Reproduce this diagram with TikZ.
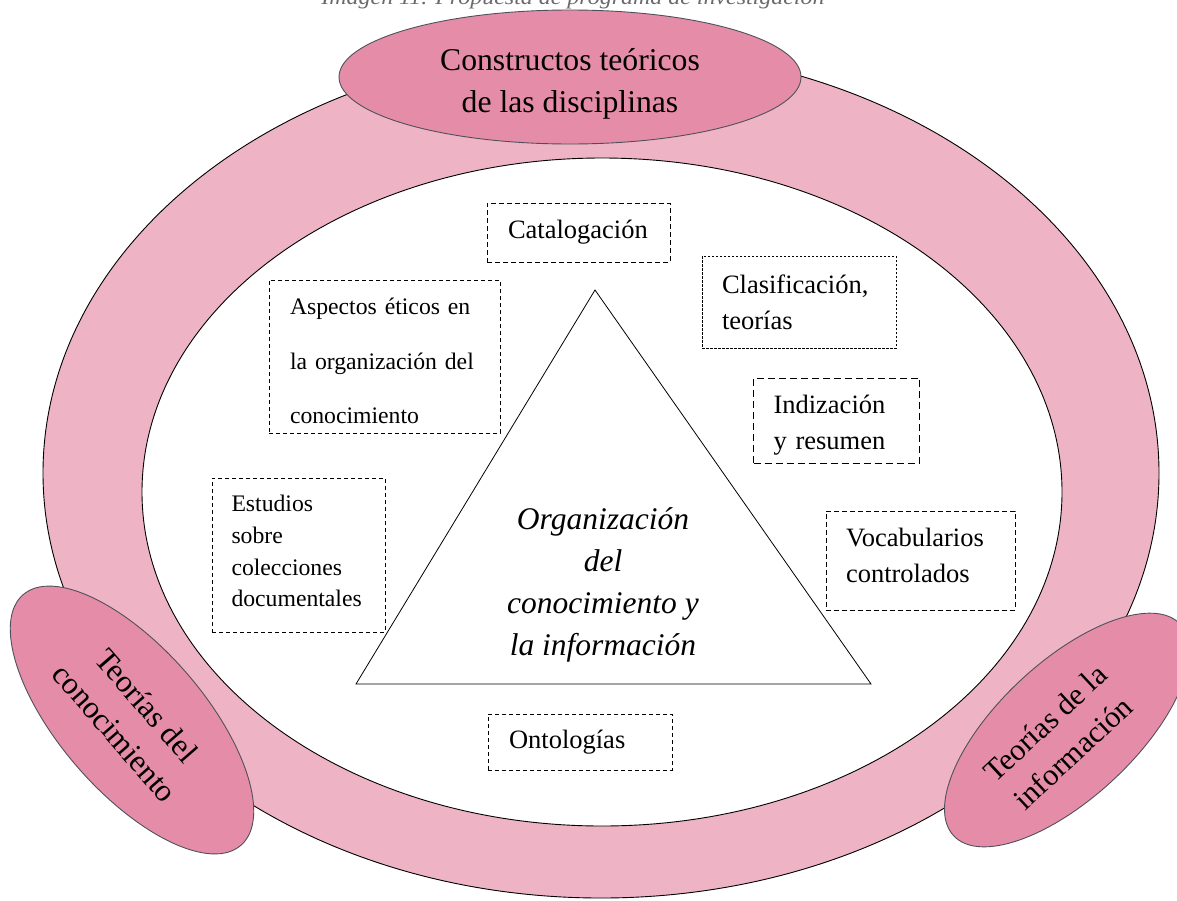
\documentclass[tikz,border=0pt]{standalone}
\usepackage{fontspec}
\setmainfont{Liberation Serif}
\usetikzlibrary{shapes.geometric}

\definecolor{ringpink}{RGB}{238,180,197}
\definecolor{lobepink}{RGB}{229,141,168}
\definecolor{lobeline}{RGB}{80,80,92}
\definecolor{captiongray}{RGB}{105,105,110}

\tikzset{
  lobe/.style={ellipse, draw=lobeline, fill=lobepink, line width=0.9pt, inner sep=0pt},
  lobetext/.style={align=center, inner sep=0pt, font=\fontsize{31.5}{42}\selectfont},
  topic/.style={draw, dash pattern=on 5pt off 3pt, line width=0.8pt, fill=white,
    align=left, inner ysep=0pt, inner xsep=20pt,
    font=\fontsize{26.5}{36}\selectfont},
  topicsmall/.style={topic, dash pattern=on 4pt off 3pt,
    font=\fontsize{23.7}{31.7}\selectfont},
  centre/.style={align=center, font=\fontsize{31.5}{42}\selectfont\itshape},
}

\begin{document}
\begin{tikzpicture}[x=1pt, y=-1pt]
  \useasboundingbox (0,0) rectangle (1177,900);

  % outer ring and its white interior
  \draw[line width=0.9pt, fill=ringpink] (601,473) ellipse [x radius=558, y radius=425];
  \draw[line width=0.9pt, fill=white] (602,492) ellipse [x radius=460, y radius=334];

  % central triangle
  \coordinate (apex) at (595,290);
  \coordinate (baseL) at (356,684);
  \coordinate (baseR) at (871,684);
  \draw[line width=0.8pt, fill=white] (apex) -- (baseL) -- (baseR) -- cycle;
  \node[centre] (core) at (603,585)
    {Organización\\del\\conocimiento y\\la información};

  % topic boxes (struts trim the vertical placement of the text)
  \node[topic, inner xsep=21pt, text width=141pt, minimum height=59pt] (catalog)
    at (578.5,232.5) {Catalogación};
  \node[topic, dash pattern=on 2.5pt off 1.5pt, text width=154pt, minimum height=92pt] (classif)
    at (799,302) {Clasificación,\\teorías};
  \node[topic, dash pattern=on 7pt off 4pt, text width=126pt, minimum height=85pt] (index)
    at (836.5,420.5) {\rule{0pt}{28pt}Indización\\y resumen};
  \node[topic, text width=149pt, minimum height=99pt] (vocab)
    at (920.5,560.5) {Vocabularios\\controlados\rule[-10pt]{0pt}{0pt}};
  \node[topic, dash pattern=on 4pt off 3pt, inner xsep=21pt, text width=142pt, minimum height=56pt] (onto)
    at (580,742) {Ontologías};
  \node[topicsmall, inner xsep=21pt, text width=189pt, minimum height=153pt,
    font=\fontsize{23.7}{54.5}\selectfont] (ethics)
    at (384.5,356.5) {\rule{0pt}{26pt}Aspectos éticos en\\la organización del\\conocimiento};
  \node[topicsmall, inner xsep=19.5pt, text width=134pt, minimum height=154pt] (collect)
    at (298.5,555) {Estudios\\sobre\\colecciones\\documentales\rule[-8pt]{0pt}{0pt}};

  % theory lobes on the ring
  \node[lobe, minimum width=462pt, minimum height=134pt] (constructs) at (570,77) {};
  \node[lobetext, font=\fontsize{31.7}{42}\selectfont] (constructs-text)
    at (570,84) {Constructos teóricos\\de las disciplinas};
  \node[lobe, rotate=-49, minimum width=332pt, minimum height=144pt] (knowledge) at (132,720) {};
  \node[lobetext, rotate=-49] (knowledge-text) at (131,719) {Teorías del\\conocimiento};
  \node[lobe, rotate=43, minimum width=310pt, minimum height=136pt] (information) at (1067,730) {};
  \node[lobetext, rotate=43, font=\fontsize{30.5}{41}\selectfont] (information-text)
    at (1059,738) {Teorías de la\\información};

  % caption
  \node[anchor=base, xscale=1.14, text=captiongray,
    font=\fontsize{21}{21}\selectfont\itshape] (caption)
    at (573,4) {Imagen 11. Propuesta de programa de investigación};
\end{tikzpicture}
\end{document}
